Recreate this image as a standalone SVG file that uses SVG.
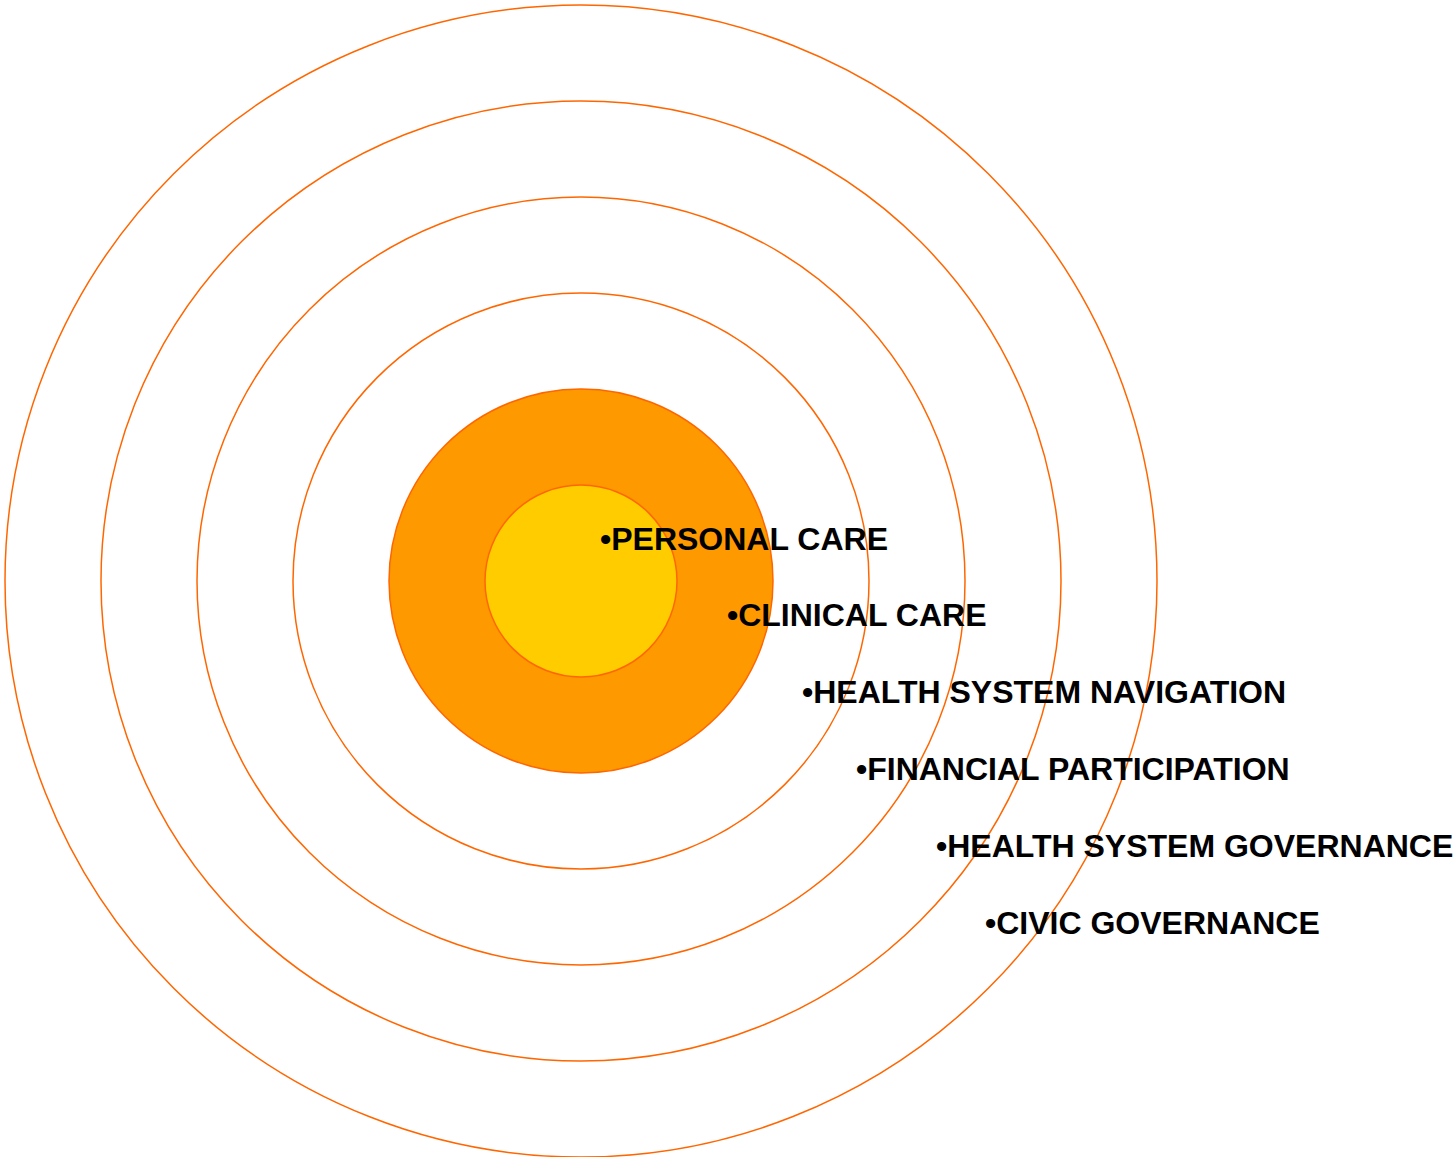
<svg xmlns="http://www.w3.org/2000/svg" width="1455" height="1157" viewBox="0 0 1455 1157">
<style>
.ring{fill:none;stroke:#FF6600;stroke-width:1.5}
.lbl{font-family:"Liberation Sans",Arial,sans-serif;font-weight:bold;font-size:32px;fill:#000}
</style>
<rect width="1455" height="1157" fill="#fff"/>
<g id="rings">
<circle id="ring6" class="ring" cx="581" cy="581" r="576"/>
<circle id="ring5" class="ring" cx="581" cy="581" r="480"/>
<circle id="ring4" class="ring" cx="581" cy="581" r="384"/>
<circle id="ring3" class="ring" cx="581" cy="581" r="288"/>
<circle id="ring2" cx="581" cy="581" r="192" fill="#FF9900" stroke="#FF6600" stroke-width="1.5"/>
<circle id="ring1" cx="581" cy="581" r="96" fill="#FFCC00" stroke="#FF6600" stroke-width="1.5"/>
</g>
<g id="labels">
<text class="lbl" x="600" y="550">•PERSONAL CARE</text>
<text class="lbl" x="727" y="626">•CLINICAL CARE</text>
<text class="lbl" x="802" y="703">•HEALTH SYSTEM NAVIGATION</text>
<text class="lbl" x="856" y="780">•FINANCIAL PARTICIPATION</text>
<text class="lbl" x="936" y="857">•HEALTH SYSTEM GOVERNANCE</text>
<text class="lbl" x="985" y="934">•CIVIC GOVERNANCE</text>
</g>
</svg>
